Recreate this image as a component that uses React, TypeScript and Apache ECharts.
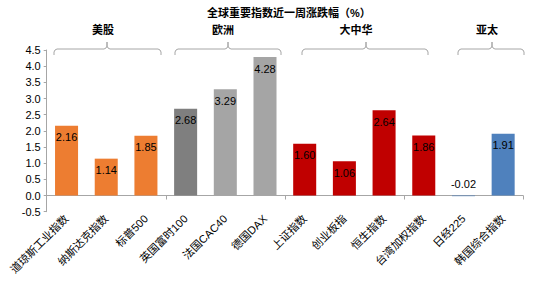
import React, { useEffect, useRef } from "react";
import * as echarts from "echarts";

const categories = [
  "道琼斯工业指数", "纳斯达克指数", "标普500", "英国富时100", "法国CAC40", "德国DAX",
  "上证指数", "创业板指", "恒生指数", "台湾加权指数", "日经225", "韩国综合指数",
];
const values = [2.16, 1.14, 1.85, 2.68, 3.29, 4.28, 1.6, 1.06, 2.64, 1.86, -0.02, 1.91];
const barColors = [
  "#ED7D31", "#ED7D31", "#ED7D31", "#7F7F7F", "#A5A5A5", "#A5A5A5",
  "#C00000", "#C00000", "#C00000", "#C00000", "#4F81BD", "#4F81BD",
];
const groups = ["美股", "欧洲", "大中华", "亚太"];
const groupLabelX = [103, 223, 356, 487];
const bracketSpans = [
  [54, 161, 107],
  [175, 281, 228],
  [302, 428, 366],
  [458, 524, 492],
];
const titleText = "全球重要指数近一周涨跌幅（%）";

const FONT = "'Liberation Sans', 'Noto Sans CJK SC', sans-serif";

export default function App() {
  const ref = useRef<HTMLDivElement>(null);
  useEffect(() => {
    document.body.style.margin = "0";
    if (!ref.current) return;
    const chart = echarts.init(ref.current, undefined, { renderer: "svg" });
    const bracketGraphics = bracketSpans.map(([x0, x1, m]) => ({
      type: "polyline",
      silent: true,
      shape: {
        points: [
          [x0, 55], [x0, 52], [x0 + 1, 50], [x0 + 3, 49], [m - 3, 49], [m - 1, 48], [m, 46], [m, 42],
          [m, 46], [m + 1, 48], [m + 3, 49], [x1 - 3, 49], [x1 - 1, 50], [x1, 52], [x1, 55],
        ],
      },
      style: { stroke: "#A6A6A6", lineWidth: 1, fill: "none" },
    }));
    const groupGraphics = groups.map((g, i) => ({
      type: "text",
      silent: true,
      x: groupLabelX[i],
      y: 29.5,
      style: {
        text: g,
        font: `bold 11px ${FONT}`,
        fill: "#000",
        textAlign: "center",
        textVerticalAlign: "middle",
      },
    }));
    chart.setOption({
      animation: false,
      grid: { left: 46.7, right: 15, top: 50, bottom: 77.3, containLabel: false },
      graphic: [
        {
          type: "text",
          silent: true,
          x: 207,
          y: 12.5,
          style: {
            text: titleText,
            font: `bold 11px ${FONT}`,
            fill: "#000",
            textAlign: "left",
            textVerticalAlign: "middle",
          },
        },
        ...groupGraphics,
        ...bracketGraphics,
      ],
      xAxis: [
        {
          type: "category",
          data: categories,
          position: "bottom",
          axisLine: { show: false, onZero: false },
          axisTick: { show: false },
          axisLabel: {
            rotate: 45,
            interval: 0,
            margin: 5,
            fontSize: 11,
            fontFamily: FONT,
            color: "#000",
          },
        },
        {
          type: "category",
          data: categories,
          position: "top",
          axisLine: { show: true, onZero: true, lineStyle: { color: "#A6A6A6", width: 1 } },
          axisTick: { show: true, inside: true, length: 4, lineStyle: { color: "#A6A6A6" } },
          axisLabel: { show: false },
        },
      ],
      yAxis: {
        type: "value",
        min: -0.5,
        max: 4.5,
        interval: 0.5,
        axisLine: { show: true, lineStyle: { color: "#A6A6A6", width: 1 } },
        axisTick: { show: true, length: 3, lineStyle: { color: "#A6A6A6" } },
        splitLine: { show: false },
        axisLabel: {
          fontSize: 11,
          fontFamily: FONT,
          color: "#000",
          margin: 6,
          formatter: (v: number) => v.toFixed(1),
        },
      },
      series: [
        {
          type: "bar",
          xAxisIndex: 0,
          barWidth: "58%",
          data: values.map((v, i) => ({
            value: v,
            itemStyle: { color: barColors[i] },
            label: v < 0 ? { position: "top", distance: 6 } : undefined,
          })),
          label: {
            show: true,
            position: "insideTop",
            distance: 6,
            fontSize: 11,
            fontFamily: FONT,
            color: "#000",
            formatter: (p: any) => Number(p.value).toFixed(2),
          },
        },
      ],
    });
    return () => chart.dispose();
  }, []);
  return <div ref={ref} style={{ width: 538, height: 289 }} />;
}
